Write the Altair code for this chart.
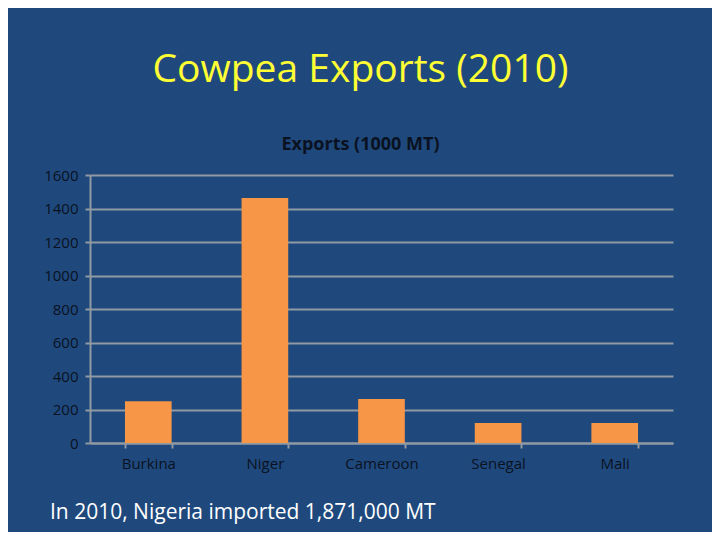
import altair as alt
import pandas as pd

countries = ["Burkina", "Niger", "Cameroon", "Senegal", "Mali"]
exports = [250, 1462, 262, 120, 120]

title_text = "Cowpea Exports (2010)"
subtitle_text = "Exports (1000 MT)"
note_text = "In 2010, Nigeria imported 1,871,000 MT"

df = pd.DataFrame({"country": countries, "exports": exports})

BG = "#1F497D"
FONT = "Open Sans"
LABEL = "#0a1222"
GRID = "#9199a3"

bars = alt.Chart(df).mark_bar(color="#F79646").encode(
    x=alt.X("country:N", sort=countries, title=None,
            scale=alt.Scale(paddingInner=0.6, paddingOuter=0.3),
            axis=alt.Axis(labelAngle=0, labelFont=FONT, labelFontSize=15,
                          labelColor=LABEL, labelPadding=8, ticks=True,
                          tickBand="extent", tickSize=5, tickColor=GRID,
                          domainColor=GRID, domainWidth=2, tickWidth=2,
                          grid=False)),
    y=alt.Y("exports:Q", title=None,
            scale=alt.Scale(domain=[0, 1600]),
            axis=alt.Axis(values=list(range(0, 1601, 200)), format="d",
                          labelFont=FONT, labelFontSize=15, labelColor=LABEL,
                          labelPadding=7, tickSize=5, tickColor=GRID,
                          domainColor=GRID, domainWidth=2, tickWidth=2,
                          gridColor=GRID, gridWidth=2, gridOpacity=1)),
)

note = alt.Chart(pd.DataFrame({"t": [note_text]})).mark_text(
    align="left", baseline="alphabetic", font=FONT, fontSize=21,
    color="white").encode(
    x=alt.value(-40), y=alt.value(344), text="t:N")

chart = alt.layer(bars, note).properties(
    width=583, height=268,
    autosize=alt.AutoSizeParams(type="none"),
    padding={"left": 82, "top": 167, "right": 39, "bottom": 89},
    background=BG,
    title=alt.TitleParams(
        text=title_text, subtitle=subtitle_text,
        font=FONT, fontSize=39, fontWeight="normal", color="#FFFF33",
        subtitleFont=FONT, subtitleFontSize=18, subtitleFontWeight="bold",
        subtitleColor=LABEL, subtitlePadding=46,
        anchor="middle", frame="group", dx=-21, offset=14),
).configure_view(stroke=None)

chart.save("out.html", embed_options={"renderer": "svg", "actions": False})
